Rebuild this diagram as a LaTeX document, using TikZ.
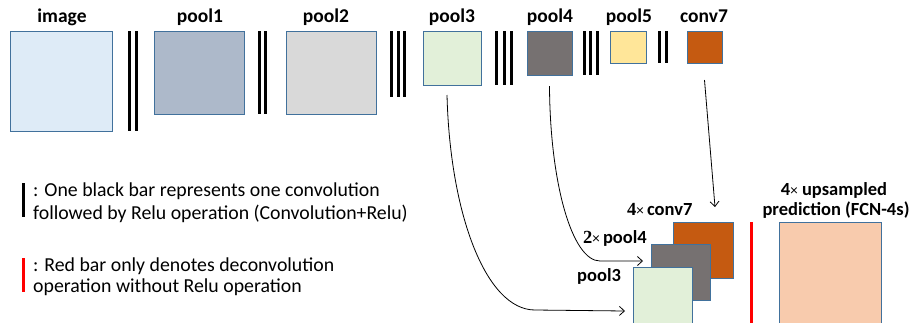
\documentclass[tikz,border=0pt]{standalone}
\usepackage{fontspec}
\setmainfont{Carlito}
\newfontfamily\serifb{Liberation Serif}
\usetikzlibrary{arrows.meta,calc}
\definecolor{cimg}{HTML}{DEEBF7}
\definecolor{cpa}{HTML}{ADB9CA}
\definecolor{cpb}{HTML}{D9D9D9}
\definecolor{cpc}{HTML}{E2F0D9}
\definecolor{cpd}{HTML}{767171}
\definecolor{cpe}{HTML}{FFE699}
\definecolor{cconv}{HTML}{C55A11}
\definecolor{cpred}{HTML}{F8CBAD}
\definecolor{bordc}{HTML}{41719C}
\definecolor{redbar}{HTML}{FF0000}
\begin{document}
\begin{tikzpicture}[x=1pt,y=-1pt,
  fmap/.style={draw=bordc,line width=0.8pt,inner sep=0pt,outer sep=0pt,anchor=north west},
  lab/.style={font=\bfseries\fontsize{18.5}{20}\selectfont,inner sep=0pt},
  toplab/.style={font=\bfseries\fontsize{19.5}{20}\selectfont,inner sep=0pt,anchor=base},
  legtext/.style={font=\fontsize{19.8}{22.5}\selectfont,inner sep=0pt,align=left,anchor=base west},
  cbar/.style={fill=black},
  conn/.style={draw=black,line width=0.8pt,-{Straight Barb[length=5pt,width=9pt]}}]
\path[use as bounding box,clip] (0,0) rectangle (911,322);
% top row feature maps
\node[fmap,fill=cimg,minimum width=102pt,minimum height=100pt] (img) at (10,31) {};
\node[fmap,fill=cpa,minimum width=90pt,minimum height=83pt] (p1) at (154,31) {};
\node[fmap,fill=cpb,minimum width=90pt,minimum height=83pt] (p2) at (286,31) {};
\node[fmap,fill=cpc,minimum width=58pt,minimum height=54pt] (p3) at (423,31) {};
\node[fmap,fill=cpd,minimum width=45pt,minimum height=44pt] (p4) at (527,31) {};
\node[fmap,fill=cpe,minimum width=36pt,minimum height=32pt] (p5) at (610,31) {};
\node[fmap,fill=cconv,minimum width=35pt,minimum height=32pt] (c7) at (687,31) {};
% labels
\node[toplab] (limg) at (62,22) {image};
\node[toplab] (lp1) at (200,22) {pool1};
\node[toplab] (lp2) at (326,22) {pool2};
\node[toplab] (lp3) at (452,22) {pool3};
\node[toplab] (lp4) at (550,22) {pool4};
\node[toplab] (lp5) at (629,22) {pool5};
\node[toplab] (lc7) at (704,22) {conv7};
% convolution bars
\fill[cbar] (128,31) rectangle (131.3,131);
\fill[cbar] (135,31) rectangle (138.3,131);
\fill[cbar] (258,31) rectangle (261.3,114);
\fill[cbar] (264,31) rectangle (267.3,114);
\fill[cbar] (390,31) rectangle (393.3,97);
\fill[cbar] (396.5,31) rectangle (399.8,97);
\fill[cbar] (403,31) rectangle (406.3,97);
\fill[cbar] (495,31) rectangle (498.3,85);
\fill[cbar] (502.5,31) rectangle (505.8,85);
\fill[cbar] (510,31) rectangle (513.3,85);
\fill[cbar] (583,31) rectangle (586.3,75);
\fill[cbar] (589,31) rectangle (592.3,75);
\fill[cbar] (595.5,31) rectangle (598.8,75);
\fill[cbar] (658,31) rectangle (661.3,63);
\fill[cbar] (664.5,31) rectangle (667.8,63);
% fused maps
\node[fmap,fill=cconv,minimum width=60pt,minimum height=56pt] (c7c) at (673,222) {};
\node[fmap,fill=cpd,minimum width=59pt,minimum height=56pt] (p4c) at (651,244) {};
\node[fmap,fill=cpc,minimum width=59pt,minimum height=58pt] (p3c) at (633,267) {};
\node[lab,anchor=base west] (lc7c) at (627,215) {{\serifb\bfseries 4}{\normalfont\fontsize{15}{15}\selectfont×}\,conv7};
\node[lab,anchor=base west] (lp4c) at (583,243) {{\serifb\bfseries 2}{\normalfont\fontsize{15}{15}\selectfont×}\,pool4};
\node[lab,anchor=base west] (lp3c) at (577,281) {pool3};
% deconvolution and prediction
\fill[redbar] (750,222) rectangle (753.3,330);
\node[fmap,fill=cpred,minimum width=102pt,minimum height=104pt] (pred) at (779,222) {};
\node[lab,anchor=base] (lpa) at (834,195) {4{\normalfont\fontsize{15}{15}\selectfont×} upsampled};
\node[lab,anchor=base] (lpb) at (836,215) {prediction (FCN-4s)};
% legend
\fill[cbar] (22,183) rectangle (25.3,217);
\node[legtext] (lega) at (33,219) {: One black bar represents one convolution\\followed by Relu operation (Convolution+Relu)};
\fill[redbar] (22,258) rectangle (25.3,292);
\node[legtext,font=\fontsize{19.8}{20.5}\selectfont] (legb) at (33,292) {: Red bar only denotes deconvolution\\operation without Relu operation};
% skip connections
\coordinate (s3) at ($(p3.south)+(-5,10)$);
\coordinate (s4) at ($(p4.south)+(0,11)$);
\coordinate (s7) at ($(c7.south)+(0,17)$);
\draw[conn] (s3) .. controls (450,214) and (486,310) .. (535,310) -- ($(p3c.west)+(-8,15)$);
\draw[conn] (s4) .. controls (550,183) and (572,261) .. (600,261) -- ($(p4c.west)+(-8,-11)$);
\draw[conn] (s7) -- ($(c7c.north)+(12,-15)$);
\end{tikzpicture}
\end{document}
